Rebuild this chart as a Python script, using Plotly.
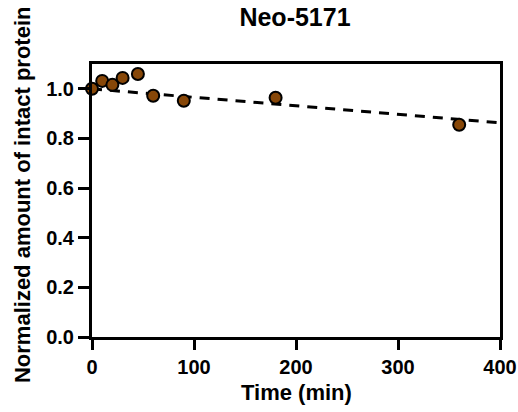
import plotly.graph_objects as go

time_min = [0, 10, 20, 30, 45, 60, 90, 180, 360]
intact = [1.0, 1.032, 1.016, 1.044, 1.06, 0.972, 0.952, 0.964, 0.855]
fit_time = [0, 400]
fit_value = [1.0, 0.863]
x_ticks = [0, 100, 200, 300, 400]
y_ticks = [0.0, 0.2, 0.4, 0.6, 0.8, 1.0]

FONT = "Liberation Sans, Arial, sans-serif"

fig = go.Figure()
fig.add_trace(go.Scatter(
    x=fit_time, y=fit_value, mode="lines",
    line=dict(color="black", width=3, dash="10px,8px"),
    hoverinfo="skip", showlegend=False, cliponaxis=False))
fig.add_trace(go.Scatter(
    x=time_min, y=intact, mode="markers",
    marker=dict(size=12, color="#874708", line=dict(color="black", width=2)),
    showlegend=False, cliponaxis=False))

axis_common = dict(
    showline=True, linecolor="black", linewidth=3, mirror=True,
    ticks="outside", tickwidth=3, tickcolor="black",
    showgrid=False, zeroline=False, automargin=False,
    tickfont=dict(family=FONT, size=20, color="black", weight="bold"),
)

fig.update_layout(
    width=518, height=412,
    margin=dict(l=92, r=18, t=64, b=75),
    plot_bgcolor="white", paper_bgcolor="white",
    title=dict(text="<b>Neo-5171</b>", x=0.5695, xanchor="center", y=0.9575, yanchor="middle",
               font=dict(family=FONT, size=25, color="black")),
    xaxis=dict(range=[0, 400], tickvals=x_ticks, ticktext=[str(v) for v in x_ticks],
               ticklen=10, **axis_common),
    yaxis=dict(range=[0, 1.1], tickvals=y_ticks, ticktext=[f"{v:.1f}" for v in y_ticks],
               ticklen=11, **axis_common),
    annotations=[
        dict(text="<b>Time (min)</b>", xref="paper", yref="paper", x=0.5, y=-0.205,
             xanchor="center", yanchor="middle", showarrow=False,
             font=dict(family=FONT, size=22, color="black")),
        dict(text="<b>Normalized amount of intact protein</b>", xref="paper", yref="paper",
             x=-0.1716, y=0.52, xanchor="center", yanchor="middle", textangle=-90, showarrow=False,
             font=dict(family=FONT, size=22, color="black")),
    ],
)

fig.write_html("out.html", config={"displayModeBar": False},
               post_script="document.body.style.margin='0';document.body.style.overflow='hidden';")
